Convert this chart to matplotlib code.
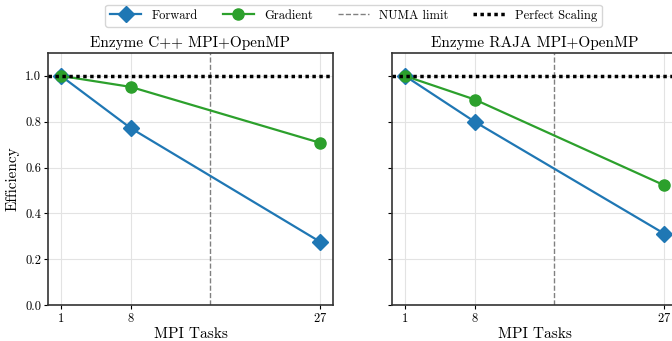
import numpy as np
import matplotlib
matplotlib.use("Agg")
import matplotlib.pyplot as plt

plt.rcParams["font.family"] = "serif"
plt.rcParams["font.serif"] = ["cmr10", "DejaVu Serif"]
plt.rcParams["axes.formatter.use_mathtext"] = True
plt.rcParams["mathtext.fontset"] = "cm"

tasks = [1, 8, 27]
numa_limit = 16
titles = ["Enzyme C++ MPI+OpenMP", "Enzyme RAJA MPI+OpenMP"]
forward = [[1.0, 0.772, 0.276], [1.0, 0.80, 0.312]]
gradient = [[1.0, 0.952, 0.708], [1.0, 0.897, 0.523]]

fig = plt.figure(figsize=(6.72, 3.41), dpi=100)
ax1 = fig.add_axes([48 / 672, 36 / 341, 285 / 672, 252 / 341])
ax2 = fig.add_axes([392 / 672, 36 / 341, 285 / 672, 252 / 341], sharey=ax1)

for i, ax in enumerate([ax1, ax2]):
    ax.grid(True, color="#e3e3e3", lw=0.8, zorder=0)
    ax.plot(tasks, forward[i], color="#1f77b4", marker="D", ms=8, lw=1.6,
            label="Forward", zorder=3)
    ax.plot(tasks, gradient[i], color="#2ca02c", marker="o", ms=8, lw=1.6,
            label="Gradient", zorder=3)
    ax.axvline(numa_limit, color="gray", ls="--", lw=1, label="NUMA limit",
               zorder=2)
    ax.axhline(1.0, color="black", ls=(0, (1, 1)), lw=2.5,
               label="Perfect Scaling", zorder=4)
    ax.set_xticks(tasks)
    ax.set_xlim(-0.3, 28.3)
    ax.set_ylim(0, 1.1)
    ax.set_yticks([0.0, 0.2, 0.4, 0.6, 0.8, 1.0])
    ax.set_title(titles[i], fontsize=11, pad=4)
    ax.set_xlabel("MPI Tasks", fontsize=11, labelpad=2)
    ax.tick_params(labelsize=9, length=3, pad=2)
    for s in ax.spines.values():
        s.set_color("#333333")
        s.set_linewidth(1.2)

ax1.set_ylabel("Efficiency", fontsize=11, labelpad=4)
ax1.set_yticklabels(["0.0", "0.2", "0.4", "0.6", "0.8", "1.0"])
ax2.tick_params(labelleft=False)

h, l = ax1.get_legend_handles_labels()
fig.legend(h, l, loc="upper center", ncol=4, fontsize=9,
           bbox_to_anchor=(0.526, 1.005), frameon=True, fancybox=True,
           columnspacing=2.0, handlelength=2.5, edgecolor="#cccccc")

fig.savefig("out.png", dpi=100)
